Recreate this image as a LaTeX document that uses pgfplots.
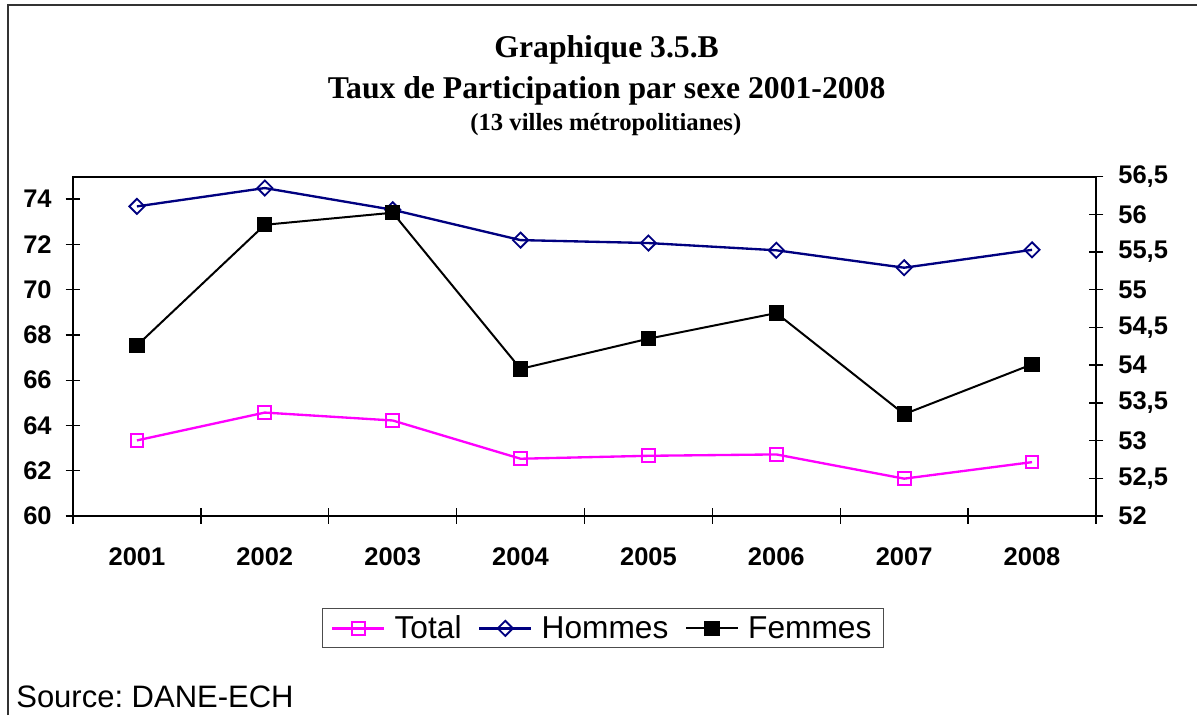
\documentclass[border=0pt]{standalone}
\usepackage{fontspec}
\setmainfont{Liberation Serif}
\newfontfamily\arial{Liberation Sans}
\usepackage{pgfplots}
\pgfplotsset{compat=1.18}
\definecolor{navyc}{RGB}{0,0,128}
\definecolor{magc}{RGB}{255,0,255}
\frenchspacing

\pgfplotstableread{
year total hommes femmes
2001 63.34 73.68 54.26
2002 64.57 74.49 55.86
2003 64.22 73.53 56.02
2004 62.53 72.19 53.95
2005 62.66 72.06 54.35
2006 62.72 71.74 54.69
2007 61.65 70.97 53.35
2008 62.38 71.76 54.01
}\datatable

\begin{document}
\frenchspacing
\begin{tikzpicture}
\useasboundingbox (0,0) rectangle (718.2pt,429pt);
\fill[white] (0,0) rectangle (718.2pt,429pt);
\draw[black!80, line width=1.1pt] (4.8pt,0) -- (4.8pt,426pt) -- (718.2pt,426pt);
\node[anchor=base, inner sep=0pt, font=\bfseries\fontsize{19}{23}\selectfont] at (364pt,394.2pt) {Graphique 3.5.B};
\node[anchor=base, inner sep=0pt, font=\bfseries\fontsize{19}{23}\selectfont] at (364pt,369.6pt) {Taux de Participation par sexe 2001-2008};
\node[anchor=base, inner sep=0pt, font=\bfseries\fontsize{14.8}{18}\selectfont] at (363.5pt,350.4pt) {(13 villes métropolitianes)};
\node[anchor=base west, inner sep=0pt, font=\arial\fontsize{18.6}{22}\selectfont] at (9.6pt,4.8pt) {Source: DANE-ECH};

\begin{axis}[
  at={(43.8pt,119.4pt)}, anchor=south west, scale only axis,
  width=613.8pt, height=203.7pt,
  xmin=2000.5, xmax=2008.5, ymin=60, ymax=75,
  xtick={2001,2002,2003,2004,2005,2006,2007,2008},
  xticklabels={2001,2002,2003,2004,2005,2006,2007,2008},
  minor xtick={2000.5,2001.5,2002.5,2003.5,2004.5,2005.5,2006.5,2007.5,2008.5},
  major x tick style={draw=none},
  ytick={60,62,64,66,68,70,72,74},
  tick pos=left, tick align=center,
  major tick length=9pt, minor tick length=9pt,
  tick style={black, line width=0.8pt},
  ticklabel style={font=\arial\bfseries\fontsize{15.3}{18}\selectfont},
  xticklabel style={yshift=-10.8pt},
  yticklabel style={xshift=-4.8pt},
  /pgf/number format/assume math mode=true,
  axis line style={black, line width=1.2pt},
  clip=false,
]
\addplot[magc, line width=1.4pt, mark=square, mark size=3.8pt, mark options={solid, fill=white, line width=1.2pt}] table[x=year, y=total] {\datatable};
\addplot[navyc, line width=1.4pt, mark=square, mark size=3.2pt, mark options={solid, fill=white, rotate=45, line width=1.1pt}] table[x=year, y=hommes] {\datatable};
\end{axis}

\begin{axis}[
  at={(43.8pt,119.4pt)}, anchor=south west, scale only axis,
  width=613.8pt, height=203.7pt,
  xmin=2000.5, xmax=2008.5, ymin=52, ymax=56.5,
  axis x line=none, axis y line*=right,
  ytick={52,52.5,53,53.5,54,54.5,55,55.5,56,56.5},
  tick align=center, major tick length=9pt,
  tick style={black, line width=0.8pt},
  ticklabel style={font=\arial\bfseries\fontsize{15.3}{18}\selectfont},
  yticklabel style={xshift=5.4pt, /pgf/number format/.cd, fixed, use comma, precision=1, assume math mode=true},
  axis line style={black, line width=1.2pt},
  clip=false,
  legend columns=3,
  legend style={at={(0.518,-0.331)}, anchor=center, draw=black!70, line width=0.6pt,
    font=\arial\fontsize{19}{22}\selectfont, inner xsep=5pt,
    /tikz/every odd column/.append style={column sep=3.5pt},
    /tikz/every even column/.append style={column sep=8pt}},
  legend cell align=left,
  legend image code/.code={\draw[mark repeat=2,mark phase=2] plot coordinates {(0pt,0pt)(15.6pt,0pt)(31.2pt,0pt)};},
]
\addlegendimage{magc, line width=1.4pt, mark=square, mark size=3.8pt, mark options={solid, fill=white, line width=1.2pt}}
\addlegendentry{Total}
\addlegendimage{navyc, line width=1.4pt, mark=square, mark size=3.2pt, mark options={solid, fill=white, rotate=45, line width=1.1pt}}
\addlegendentry{Hommes}
\addplot[black, line width=1.2pt, mark=square*, mark size=4.0pt, mark options={solid, fill=black}] table[x=year, y=femmes] {\datatable};
\addlegendentry{Femmes}
\end{axis}
\end{tikzpicture}
\end{document}
